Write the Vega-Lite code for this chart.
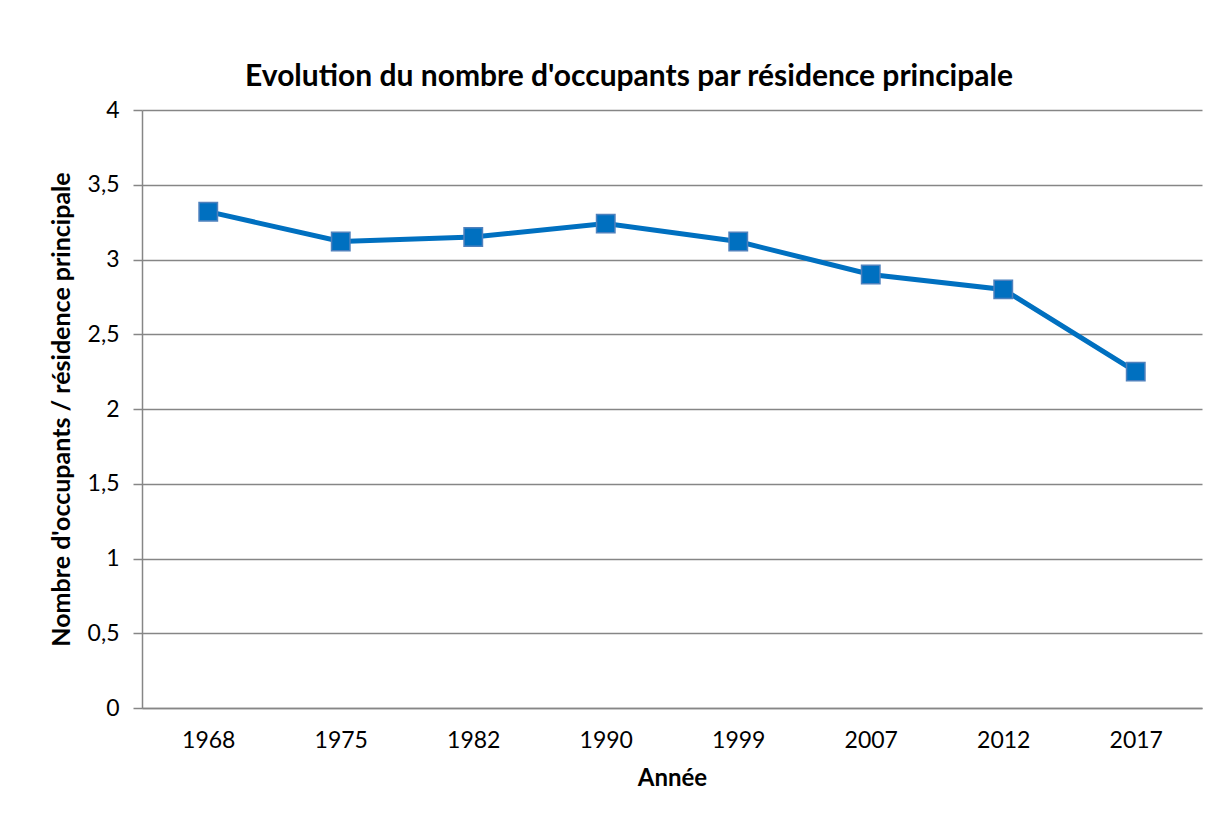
{
  "$schema": "https://vega.github.io/schema/vega-lite/v6.json",
  "width": 1060,
  "height": 598,
  "autosize": {"type": "none"},
  "padding": {"left": 142, "top": 110, "right": 17, "bottom": 116},
  "background": "white",
  "config": {
    "font": "Lato",
    "view": {"stroke": null}
  },
  "title": {
    "text": "Evolution du nombre d'occupants par résidence principale",
    "font": "Lato",
    "fontSize": 30,
    "fontWeight": "bold",
    "color": "#000000",
    "anchor": "middle",
    "dx": -43,
    "offset": 7
  },
  "data": {
    "values": [
      {"annee": "1968", "occupants": 3.32},
      {"annee": "1975", "occupants": 3.12},
      {"annee": "1982", "occupants": 3.15},
      {"annee": "1990", "occupants": 3.24},
      {"annee": "1999", "occupants": 3.12},
      {"annee": "2007", "occupants": 2.9},
      {"annee": "2012", "occupants": 2.8},
      {"annee": "2017", "occupants": 2.25}
    ]
  },
  "encoding": {
    "x": {
      "field": "annee",
      "type": "ordinal",
      "scale": {"type": "point", "padding": 0.5},
      "axis": {
        "title": "Année",
        "titleFont": "Lato",
        "titleFontSize": 24,
        "titleFontWeight": "bold",
        "titleColor": "#000000",
        "titlePadding": 14,
        "labelAngle": 0,
        "labelFont": "Lato",
        "labelFontSize": 23,
        "labelColor": "#000000",
        "labelPadding": 21,
        "ticks": false,
        "domainColor": "#868686",
        "domainWidth": 1.5,
        "grid": false
      }
    },
    "y": {
      "field": "occupants",
      "type": "quantitative",
      "scale": {"domain": [0, 4], "nice": false, "zero": true},
      "axis": {
        "title": "Nombre d'occupants / résidence principale",
        "titleFont": "Lato",
        "titleFontSize": 25,
        "titleFontWeight": "bold",
        "titleColor": "#000000",
        "titlePadding": 13,
        "values": [0, 0.5, 1, 1.5, 2, 2.5, 3, 3.5, 4],
        "labelExpr": "replace(format(datum.value, '~g'), '.', ',')",
        "labelFont": "Lato",
        "labelFontSize": 23,
        "labelColor": "#000000",
        "labelPadding": 14,
        "tickSize": 9,
        "tickColor": "#868686",
        "tickWidth": 1.5,
        "domainColor": "#868686",
        "domainWidth": 1.5,
        "grid": true,
        "gridColor": "#868686",
        "gridWidth": 1.5
      }
    }
  },
  "layer": [
    {
      "mark": {"type": "line", "color": "#0070C0", "strokeWidth": 5}
    },
    {
      "mark": {
        "type": "point",
        "shape": "square",
        "size": 340,
        "filled": true,
        "fill": "#0070C0",
        "stroke": "#4F81BD",
        "strokeWidth": 1.5,
        "opacity": 1
      }
    }
  ]
}
